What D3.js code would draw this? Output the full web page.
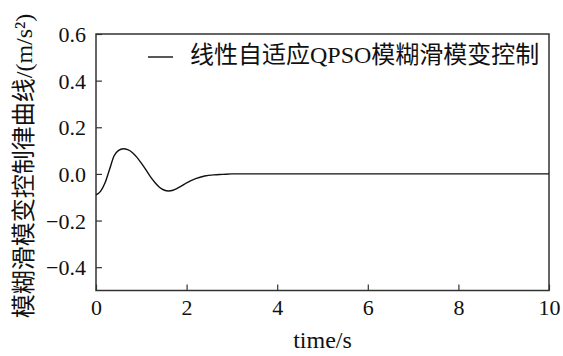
<!DOCTYPE html>
<html><head><meta charset="utf-8">
<script src="https://cdn.jsdelivr.net/npm/d3@7"></script>
<style>
body{margin:0;background:#fff;}
text{font-family:"Liberation Serif","Noto Sans CJK SC",serif;fill:#111;}
</style></head><body>
<svg id="c" width="563" height="356"></svg>
<script>
const times = [0, 0.1, 0.2, 0.3, 0.4, 0.5, 0.6, 0.7, 0.8, 0.9, 1.0, 1.1, 1.2, 1.3, 1.4, 1.5, 1.6, 1.7, 1.8, 1.9, 2.0, 2.2, 2.4, 2.6, 2.8, 3.0, 4, 6, 8, 10];
const values = [-0.09, -0.075, -0.038, 0.02, 0.078, 0.101, 0.108, 0.104, 0.092, 0.072, 0.046, 0.018, -0.012, -0.037, -0.057, -0.069, -0.073, -0.07, -0.061, -0.05, -0.038, -0.02, -0.009, -0.004, -0.002, 0, 0, 0, 0, 0];
const xTicks = [0, 2, 4, 6, 8, 10];
const yTicks = [-0.4, -0.2, 0.0, 0.2, 0.4, 0.6];
const seriesName = "线性自适应QPSO模糊滑模变控制";
const xLabel = "time/s";
const yLabel = "模糊滑模变控制律曲线/(m/s²)";

const svg = d3.select("#c");
const L = 96, R = 549, T = 34, B = 290.5;
const x = d3.scaleLinear().domain([0, 10]).range([L, R]);
const y = d3.scaleLinear().domain([-0.5, 0.6]).range([B, T]);

const fmt = v => (v < 0 ? "\u2212" : "") + Math.abs(v).toFixed(1);

const xa = svg.append("g").attr("transform", `translate(0,${B})`)
  .call(d3.axisBottom(x).tickValues(xTicks).tickSizeInner(-6).tickSizeOuter(0).tickPadding(9).tickFormat(d3.format("d")));
const ya = svg.append("g").attr("transform", `translate(${L},0)`)
  .call(d3.axisLeft(y).tickValues(yTicks).tickSizeInner(-6).tickSizeOuter(0).tickPadding(10).tickFormat(fmt));
[xa, ya].forEach(a => {
  a.select(".domain").remove();
  a.selectAll("line").attr("stroke", "#333").attr("stroke-width", 1.2);
  a.selectAll("text").style("font-size", "22px").attr("fill", "#111");
});
ya.selectAll("text").attr("dy", "0.35em");
xa.selectAll("text").attr("dy", "0.72em");

svg.append("rect").attr("x", L).attr("y", T).attr("width", R - L).attr("height", B - T)
  .attr("fill", "none").attr("stroke", "#333").attr("stroke-width", 1.5);

const line = d3.line().x((d, i) => x(times[i])).y(d => y(d)).curve(d3.curveMonotoneX);
svg.append("path").datum(values).attr("d", line).attr("fill", "none")
  .attr("stroke", "#111").attr("stroke-width", 1.4);

// legend
svg.append("line").attr("x1", 148).attr("x2", 173).attr("y1", 57).attr("y2", 57)
  .attr("stroke", "#111").attr("stroke-width", 1.4);
svg.append("text").attr("x", 190).attr("y", 63).style("font-size", "24px").text(seriesName);

svg.append("text").attr("x", (L + R) / 2).attr("y", 348).attr("text-anchor", "middle")
  .style("font-size", "24px").text(xLabel);
svg.append("text").attr("transform", `translate(32,${(10 + 322) / 2}) rotate(-90)`)
  .attr("text-anchor", "middle").style("font-size", "24px").text(yLabel);
</script></body></html>
